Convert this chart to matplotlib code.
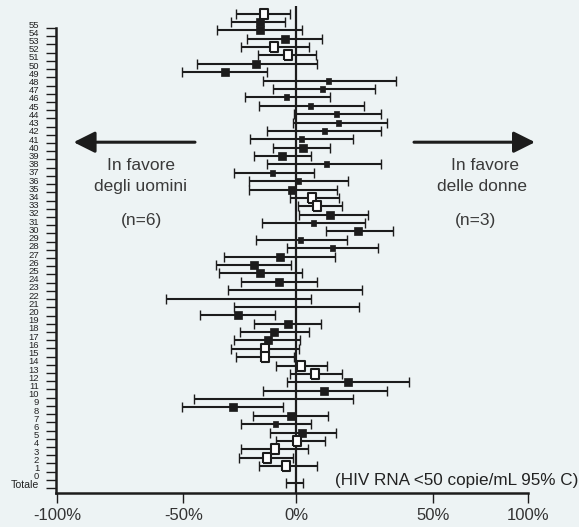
import numpy as np
import matplotlib
matplotlib.use('Agg')
import matplotlib.pyplot as plt
from matplotlib.transforms import ScaledTranslation

# Differenza uomini/donne per studio, HIV RNA <50 copie/mL (IC 95%)
# righe dall'alto (55) al basso (0), poi il Totale
etichette = [str(k) for k in range(55, -1, -1)] + ['Totale']

inf = [-25.7, -27.7, -33.5, -21.0, -23.2, -16.2, -42.0, -48.1, -14.3, -10.0,
       -21.7, -15.7, -1.2, -1.5, -12.2, -19.6, -9.7, -18.0, -12.5, -26.4,
       -20.0, -20.0, -2.9, 0.6, 0.9, -14.6, 12.5, -16.9, -3.9, -30.7,
       -33.8, -32.7, -23.4, -28.8, -55.2, -26.4, -40.8, -18.0, -24.0, -26.4,
       -27.4, -25.3, -8.6, -2.6, -3.9, -13.9, -43.2, -48.1, -18.2, -23.2,
       -11.0, -8.6, -23.2, -24.3, -15.7, np.nan, -4.5]

sup = [-2.5, -4.6, 2.5, 10.9, 5.3, 8.2, 8.5, -12.2, 42.0, 33.4,
       14.2, 28.4, 35.8, 38.1, 35.8, 23.8, 14.4, 6.1, 35.8, 7.4,
       21.6, 17.0, 18.2, 19.1, 30.3, 29.1, 40.9, 21.3, 34.5, 16.3,
       -2.2, 2.5, 8.5, 27.7, 6.1, 26.3, -8.9, 10.6, 5.3, 1.4,
       1.1, -1.2, 13.0, 19.1, 47.6, 38.1, 23.7, -5.8, 13.5, 6.1,
       16.8, 12.1, 4.9, -1.5, 8.5, np.nan, 2.8]

stima = [-13.6, -15.5, -15.5, -4.9, -9.5, -3.6, -17.2, -30.1, 13.5, 11.0,
         -4.4, 5.9, 16.6, 17.7, 11.8, 2.1, 2.8, -6.1, 12.3, -10.2,
         0.8, -1.8, 6.5, 8.9, 14.2, 7.2, 25.9, 1.5, 14.9, -6.9,
         -18.0, -15.5, -7.5, np.nan, np.nan, np.nan, -24.7, -3.6, -9.6, -11.8,
         -13.2, -13.2, 1.8, 7.8, 21.6, 11.6, np.nan, -26.8, -2.4, -9.1,
         2.5, 0.3, -8.9, -12.6, -4.4, np.nan, np.nan]

# O = quadrato aperto, F = pieno, f = pieno piccolo, - = nessun simbolo
tipo = ['O', 'F', 'F', 'F', 'O', 'O', 'F', 'F', 'f', 'f',
        'f', 'f', 'f', 'f', 'f', 'f', 'F', 'F', 'f', 'f',
        'f', 'F', 'O', 'O', 'F', 'f', 'F', 'f', 'f', 'F',
        'F', 'F', 'F', '-', '-', '-', 'F', 'F', 'F', 'F',
        'O', 'O', 'O', 'O', 'F', 'F', '-', 'F', 'F', 'f',
        'F', 'O', 'O', 'O', 'O', '-', '-']

xtick_lab = ['-100%', '-50%', '0%', '50%', '100%']
xtick_pos = [-101, -47.7, 0, 57.7, 97.8]

sfondo = '#edf3f4'
nero = '#1c1c1c'

plt.rcParams['font.family'] = ['Liberation Sans', 'DejaVu Sans']

fig = plt.figure(figsize=(5.79, 5.27), dpi=100, facecolor=sfondo)
W, H = 579, 527
ax = fig.add_axes([56 / W, (H - 492.5) / H, (528 - 56) / W, (492.5 - 6) / H])
ax.set_facecolor(sfondo)

n = len(etichette)
y = np.arange(n)[::-1]  # 56 in alto, 0 = Totale
inf = np.array(inf)
sup = np.array(sup)
stima = np.array(stima)
tipo = np.array(tipo)

ax.axvline(0, color=nero, lw=1.6, zorder=2)

ok = ~np.isnan(inf)
ax.hlines(y[ok], inf[ok], sup[ok], color=nero, lw=1.5, zorder=3)
ax.plot(inf[ok], y[ok], ls='none', marker='|', ms=6.8, mew=1.0, color=nero, zorder=3)
ax.plot(sup[ok], y[ok], ls='none', marker='|', ms=6.8, mew=1.0, color=nero, zorder=3)

rett_alto = [(-0.36, -0.5), (0.36, -0.5), (0.36, 0.5), (-0.36, 0.5), (-0.36, -0.5)]
rett_aperto = [(-0.41, -0.5), (0.41, -0.5), (0.41, 0.5), (-0.41, 0.5), (-0.41, -0.5)]
stili = {
    'F': dict(marker='s', ms=5.8, mfc=nero, mec=nero, mew=0.5),
    'f': dict(marker=rett_alto, ms=5.0, mfc=nero, mec=nero, mew=0.5),
    'O': dict(marker=rett_aperto, ms=6.6, mfc='white', mec=nero, mew=1.5),
}
for t, st in stili.items():
    m = tipo == t
    ax.plot(stima[m], y[m], ls='none', zorder=4, **st)

ax.set_xlim(-101.5, 97.8)
ax.set_ylim(-1.145, 56.9)

ax.set_xticks(xtick_pos)
ax.set_xticklabels(xtick_lab, fontsize=12, color='#333333')
ax.set_yticks(-0.61 + 0.98 * y)
ax.set_yticklabels(etichette, fontsize=6.8, color='#222222')
ax.get_yticklabels()[-1].set_fontsize(7.6)
ax.tick_params(axis='y', direction='out', length=7.2, width=1.0, pad=5, color=nero)
ax.tick_params(axis='x', direction='out', length=7.2, width=1.0, pad=4, color=nero)
sposta = ScaledTranslation(0, 4 / 100, fig.dpi_scale_trans)
for lab in ax.get_yticklabels():
    lab.set_transform(lab.get_transform() + sposta)

for s in ['top', 'right']:
    ax.spines[s].set_visible(False)
for s in ['left', 'bottom']:
    ax.spines[s].set_linewidth(1.8)
    ax.spines[s].set_color(nero)
ax.spines['left'].set_bounds(-1.145, -0.61 + 0.98 * 56)

# frecce e testi
freccia = dict(arrowstyle='-|>,head_length=1.3,head_width=0.65', mutation_scale=10,
               lw=2.2, color=nero, shrinkA=0, shrinkB=0)
ax.annotate('', xy=(73.6 / W, 1 - 142.2 / H), xytext=(195 / W, 1 - 142.2 / H),
            xycoords='figure fraction', arrowprops=freccia)
ax.annotate('', xy=(535 / W, 1 - 142.2 / H), xytext=(414 / W, 1 - 142.2 / H),
            xycoords='figure fraction', arrowprops=freccia)

testo = dict(ha='center', va='center', fontsize=12.5, color='#3a3a3a')
fig.text(141 / W, 1 - 166 / H, 'In favore', **testo)
fig.text(141 / W, 1 - 186 / H, 'degli uomini', **testo)
fig.text(141 / W, 1 - 220.5 / H, '(n=6)', **testo)
fig.text(485 / W, 1 - 166 / H, 'In favore', **testo)
fig.text(482 / W, 1 - 186 / H, 'delle donne', **testo)
fig.text(476 / W, 1 - 220.5 / H, '(n=3)', **testo)
fig.text(578 / W, 1 - 480.5 / H, '(HIV RNA <50 copie/mL 95% C)', ha='right', va='center',
         fontsize=12.3, color='#222222')

fig.savefig('out.png', dpi=100, facecolor=sfondo)
